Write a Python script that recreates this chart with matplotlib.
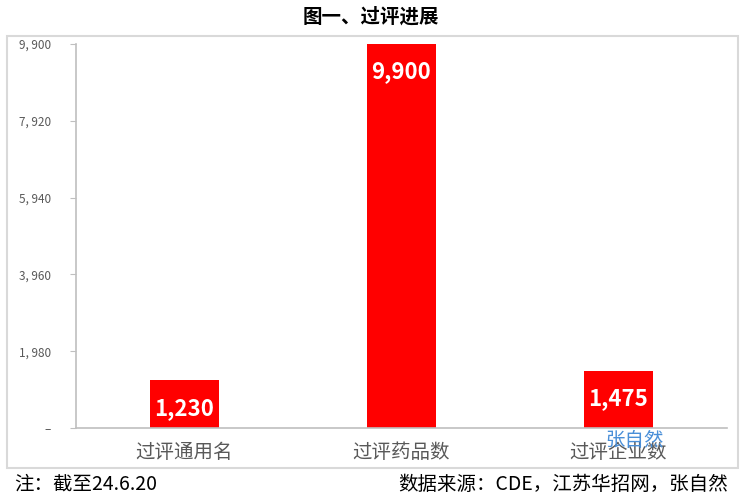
import matplotlib.pyplot as plt
from matplotlib.patches import Rectangle

plt.rcParams['font.family'] = ['Noto Sans CJK SC', 'DejaVu Sans']

# 数据
categories = ['过评通用名', '过评药品数', '过评企业数']
values = [1230, 9900, 1475]
yticks = [0, 1980, 3960, 5940, 7920, 9900]
ytick_labels = ['–', '1, 980', '3, 960', '5, 940', '7, 920', '9, 900']

fig = plt.figure(figsize=(7.41, 4.99), dpi=100)

# 外框
fig.patches.append(Rectangle((7 / 741, 1 - 468 / 499), 731 / 741, 432 / 499,
                             transform=fig.transFigure, fill=False,
                             edgecolor='#d9d9d9', linewidth=1.5))

ax = fig.add_axes([76 / 741, 1 - 428 / 499, 651 / 741, 384 / 499])
x = range(len(categories))
bars = ax.bar(x, values, width=0.32, color='#ff0000')

for b, v in zip(bars, values):
    ax.text(b.get_x() + b.get_width() / 2, v - 420, f'{v:,}',
            ha='center', va='top', color='white', fontsize=16, fontweight='bold')

ax.set_xlim(-0.5, 2.5)
ax.set_ylim(0, 9900)
ax.set_yticks(yticks)
ax.set_yticklabels(ytick_labels, fontsize=8.5, color='#595959')
ax.set_xticks(list(x))
ax.set_xticklabels(categories, fontsize=14, color='#595959')
ax.tick_params(axis='x', length=0, pad=10)
ax.tick_params(axis='y', length=4, color='#bfbfbf', pad=14)

for s in ['top', 'right']:
    ax.spines[s].set_visible(False)
for s in ['left', 'bottom']:
    ax.spines[s].set_color('#bfbfbf')
    ax.spines[s].set_linewidth(1.2)

fig.text(0.5, 1 - 17 / 499, '图一、过评进展', ha='center', va='center',
         fontsize=14, fontweight='bold')
# 水印（原图即与类目标签重叠）
fig.text(635 / 741, 1 - 440 / 499, '张自然', ha='center', va='center',
         fontsize=14, color='#4a8fd8')
fig.text(14 / 741, 1 - 484 / 499, '注：截至24.6.20', ha='left', va='center',
         fontsize=14)
fig.text(728 / 741, 1 - 484 / 499, '数据来源：CDE，江苏华招网，张自然', ha='right', va='center',
         fontsize=14)

fig.savefig('out.png', dpi=100)
